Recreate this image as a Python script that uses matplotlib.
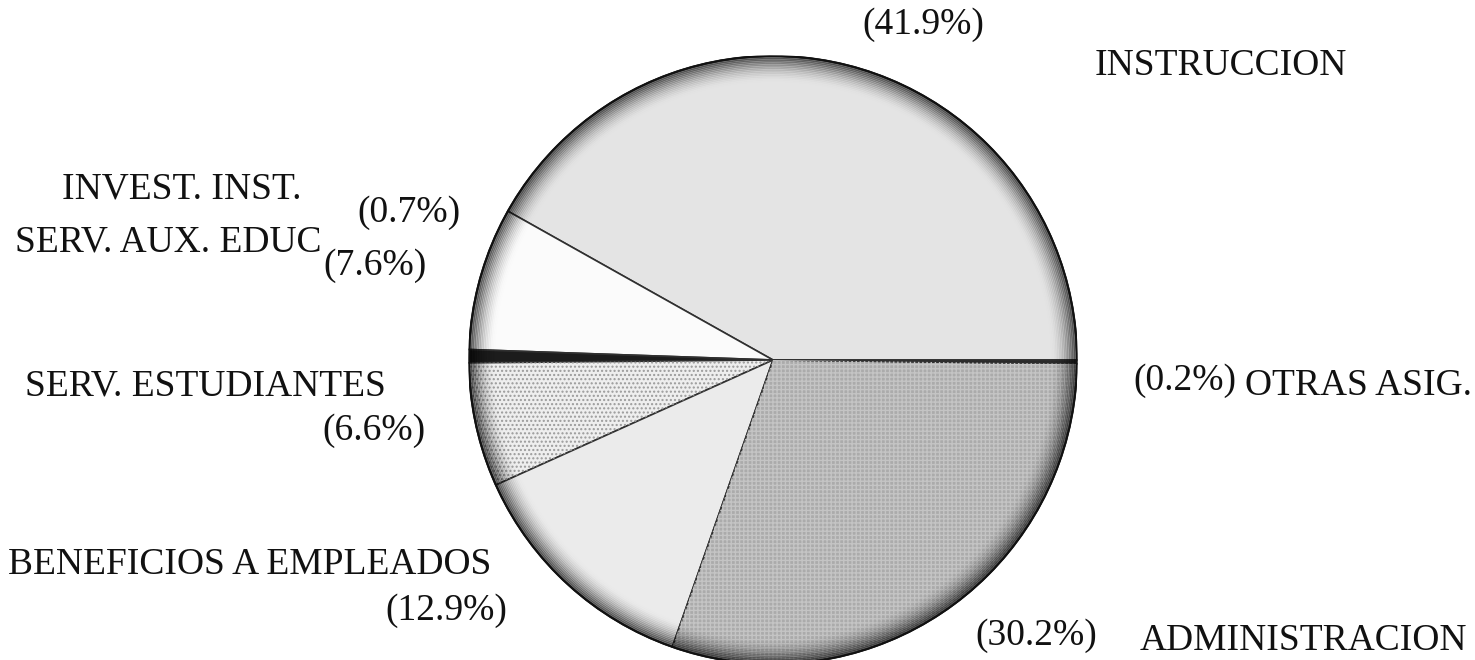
import matplotlib
matplotlib.use("Agg")
import matplotlib.pyplot as plt
from matplotlib.patches import Circle, Wedge

# ---- data ----
categories = ["INSTRUCCION", "SERV. AUX. EDUC", "INVEST. INST.", "SERV. ESTUDIANTES",
              "BENEFICIOS A EMPLEADOS", "ADMINISTRACION", "OTRAS ASIG."]
shares = [41.9, 7.6, 0.7, 6.6, 12.9, 30.2, 0.2]
pct_labels = ["(41.9%)", "(7.6%)", "(0.7%)", "(6.6%)", "(12.9%)", "(30.2%)", "(0.2%)"]

# ---- styles / layout ----
fills = ["#e4e4e4", "#fbfbfb", "#1c1c1c", "#eeeeee", "#ebebeb", "#ababab", "#2a2a2a"]
hatches = [None, None, None, "....", None, "++++", None]
hatch_cols = [None, None, None, "#9a9a9a", None, "#c4c4c4", None]

# label anchors in pixel coords (x left, y baseline from top)
name_pos = {"INSTRUCCION": (1095, 75), "SERV. AUX. EDUC": (15, 252), "INVEST. INST.": (62, 198),
            "SERV. ESTUDIANTES": (25, 395), "BENEFICIOS A EMPLEADOS": (8, 574),
            "ADMINISTRACION": (1140, 650), "OTRAS ASIG.": (1245, 395)}
pct_pos = {"(41.9%)": (862, 34), "(7.6%)": (323, 275), "(0.7%)": (357, 222), "(6.6%)": (322, 440),
           "(12.9%)": (385, 620), "(30.2%)": (975, 645), "(0.2%)": (1133, 390)}

W, H = 1475, 660
fig = plt.figure(figsize=(W / 100, H / 100), dpi=100)
fig.patch.set_facecolor("white")

cx, cy, R = 773, 360, 304
ax = fig.add_axes([(cx - R) / W, (H - cy - R) / H, 2 * R / W, 2 * R / H])
ax.set_clip_on(False)
wedges, _ = ax.pie(shares, startangle=0, counterclock=True, colors=fills, radius=1.0,
                   wedgeprops=dict(edgecolor="#303030", linewidth=1.2))

# texture overlays
for w, h, hc in zip(wedges, hatches, hatch_cols):
    if h:
        ov = Wedge(w.center, w.r, w.theta1, w.theta2, facecolor="none", edgecolor=hc,
                   linewidth=0, hatch=h)
        ax.add_patch(ov)

# rim shading (dark gradient toward the rim)
n = 16
for k in range(n):
    r = 1.0 - k * 0.0055
    ax.add_patch(Circle((0, 0), r, fill=False, edgecolor="black", linewidth=1.6,
                        alpha=0.6 * (1 - k / n) ** 2))
ax.add_patch(Circle((0, 0), 1.0, fill=False, edgecolor="#111111", linewidth=1.4))

ax.set_xlim(-1.0, 1.0)
ax.set_ylim(-1.0, 1.0)
ax.axis("off")

font = dict(family="Liberation Serif", fontsize=27, color="#111111")
for name in categories:
    x, y = name_pos[name]
    fig.text(x / W, 1 - y / H, name, ha="left", va="baseline", **font)
for p in pct_labels:
    x, y = pct_pos[p]
    fig.text(x / W, 1 - y / H, p, ha="left", va="baseline", **font)

fig.savefig("out.png", dpi=100, facecolor="white")
